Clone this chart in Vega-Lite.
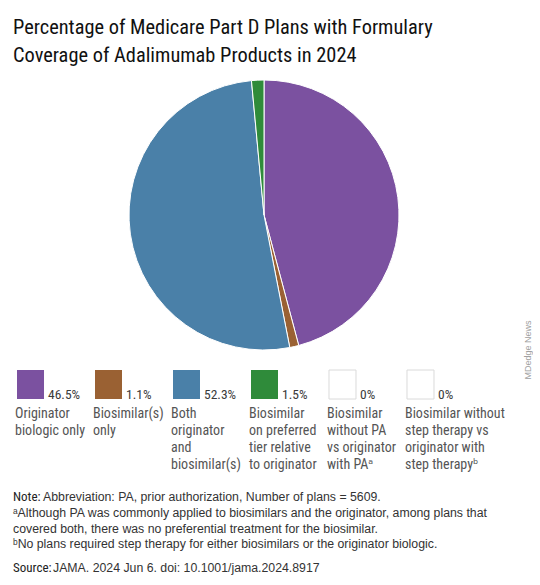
{
  "$schema": "https://vega.github.io/schema/vega-lite/v6.json",
  "padding": {"top": 17, "left": 0, "right": 0, "bottom": 0},
  "background": "white",
  "bounds": "flush",
  "config": {"view": {"stroke": null}, "font": "Roboto Condensed, DejaVu Sans Condensed, Roboto, sans-serif"},
  "title": {
    "text": ["Percentage of Medicare Part D Plans with Formulary", "Coverage of Adalimumab Products in 2024"],
    "anchor": "start", "frame": "group", "dx": 13, "fontSize": 20.4, "lineHeight": 28,
    "font": "Roboto Condensed, DejaVu Sans Condensed, Roboto, sans-serif", "fontWeight": "normal", "color": "#111111", "offset": 12
  },
  "datasets": {
    "cats": [
      {"key": "orig", "label": "Originator\nbiologic only", "value": 46.5, "pct": "46.5%", "order": 1},
      {"key": "bios", "label": "Biosimilar(s)\nonly", "value": 1.1, "pct": "1.1%", "order": 2},
      {"key": "both", "label": "Both\noriginator\nand\nbiosimilar(s)", "value": 52.3, "pct": "52.3%", "order": 3},
      {"key": "pref", "label": "Biosimilar\non preferred\ntier relative\nto originator", "value": 1.5, "pct": "1.5%", "order": 4},
      {"key": "nopa", "label": "Biosimilar\nwithout PA\nvs originator\nwith PAᵃ", "value": 0, "pct": "0%", "order": 5},
      {"key": "nostep", "label": "Biosimilar without\nstep therapy vs\noriginator with\nstep therapyᵇ", "value": 0, "pct": "0%", "order": 6}
    ],
    "notes": [
      {"row": 1, "prefix": "Note:", "text": "Abbreviation: PA, prior authorization, Number of plans = 5609."},
      {"row": 2, "prefix": "", "text": "ᵃAlthough PA was commonly applied to biosimilars and the originator, among plans that"},
      {"row": 3, "prefix": "", "text": "\u00a0covered both, there was no preferential treatment for the biosimilar."},
      {"row": 4, "prefix": "", "text": "ᵇNo plans required step therapy for either biosimilars or the originator biologic."},
      {"row": 5, "prefix": "Source:", "text": "JAMA. 2024 Jun 6. doi:  10.1001/jama.2024.8917"}
    ]
  },
  "vconcat": [
    {
      "width": 528,
      "height": 270,
      "layer": [
        {
          "data": {"name": "cats"},
          "transform": [{"filter": "datum.value > 0"}],
          "mark": {"type": "arc", "outerRadius": 135, "stroke": "white", "strokeWidth": 1},
          "encoding": {
            "theta": {"field": "value", "type": "quantitative", "stack": true},
            "order": {"field": "order", "type": "ordinal"},
            "color": {
              "field": "key", "type": "nominal",
              "scale": {"domain": ["orig", "bios", "both", "pref", "nopa", "nostep"], "range": ["#7b51a0", "#9a6133", "#4a80a8", "#2f8b3a", "#ffffff", "#ffffff"]},
              "legend": null
            }
          }
        },
        {
          "data": {"values": [{"credit": "MDedge News"}]},
          "mark": {"type": "text", "angle": 270, "fontSize": 9, "color": "#a0a0a0", "font": "Liberation Sans", "align": "center", "baseline": "middle"},
          "encoding": {"x": {"value": "width"}, "y": {"value": "height"}, "text": {"field": "credit"}}
        }
      ]
    },
    {
      "spacing": 102,
      "bounds": "flush",
      "vconcat": [
        {
          "width": 451,
          "height": 29,
          "data": {"name": "cats"},
          "layer": [
            {
              "mark": {"type": "rect", "strokeWidth": 1},
              "encoding": {
                "x": {"field": "key", "type": "nominal", "sort": ["orig", "bios", "both", "pref", "nopa", "nostep"], "scale": {"type": "band", "paddingInner": 0.6538, "paddingOuter": 0.218}, "axis": null},
                "color": {"field": "key", "type": "nominal", "legend": null},
                "stroke": {"condition": {"test": "datum.value == 0", "value": "#dadada"}, "value": null}
              }
            },
            {
              "mark": {"type": "text", "align": "left", "baseline": "alphabetic", "dx": 31, "dy": 14, "fontSize": 13.5, "color": "#3a3a3a"},
              "encoding": {
                "x": {"field": "key", "type": "nominal", "sort": ["orig", "bios", "both", "pref", "nopa", "nostep"], "bandPosition": 0},
                "text": {"field": "pct"}
              }
            },
            {
              "mark": {"type": "text", "align": "left", "baseline": "top", "dx": -2, "dy": 22, "fontSize": 14, "lineHeight": 17, "lineBreak": "\n", "color": "#555555"},
              "encoding": {
                "x": {"field": "key", "type": "nominal", "sort": ["orig", "bios", "both", "pref", "nopa", "nostep"], "bandPosition": 0},
                "text": {"field": "label"}
              }
            }
          ]
        },
        {
          "width": 500,
          "height": 63,
          "data": {"name": "notes"},
          "encoding": {
            "y": {"field": "row", "type": "ordinal", "scale": {"type": "point", "padding": 0}, "axis": null},
            "x": {"value": 0}
          },
          "layer": [
            {
              "transform": [{"filter": "datum.row == 1"}],
              "mark": {"type": "text", "align": "left", "baseline": "alphabetic", "dx": 13, "fontSize": 13, "color": "#222222"},
              "encoding": {"text": {"field": "prefix"}}
            },
            {
              "transform": [{"filter": "datum.row == 1"}],
              "mark": {"type": "text", "align": "left", "baseline": "alphabetic", "dx": 43, "fontSize": 12.3, "font": "Liberation Sans", "color": "#333333"},
              "encoding": {"text": {"field": "text"}}
            },
            {
              "transform": [{"filter": "datum.row >= 2 && datum.row <= 4"}],
              "mark": {"type": "text", "align": "left", "baseline": "alphabetic", "dx": 13, "fontSize": 12.3, "font": "Liberation Sans", "color": "#333333"},
              "encoding": {"text": {"field": "text"}}
            },
            {
              "transform": [{"filter": "datum.row == 5"}],
              "mark": {"type": "text", "align": "left", "baseline": "alphabetic", "dx": 13, "dy": 8, "fontSize": 13, "color": "#222222"},
              "encoding": {"text": {"field": "prefix"}}
            },
            {
              "transform": [{"filter": "datum.row == 5"}],
              "mark": {"type": "text", "align": "left", "baseline": "alphabetic", "dx": 53, "dy": 8, "fontSize": 12.3, "font": "Liberation Sans", "color": "#333333"},
              "encoding": {"text": {"field": "text"}}
            }
          ]
        }
      ]
    }
  ]
}
